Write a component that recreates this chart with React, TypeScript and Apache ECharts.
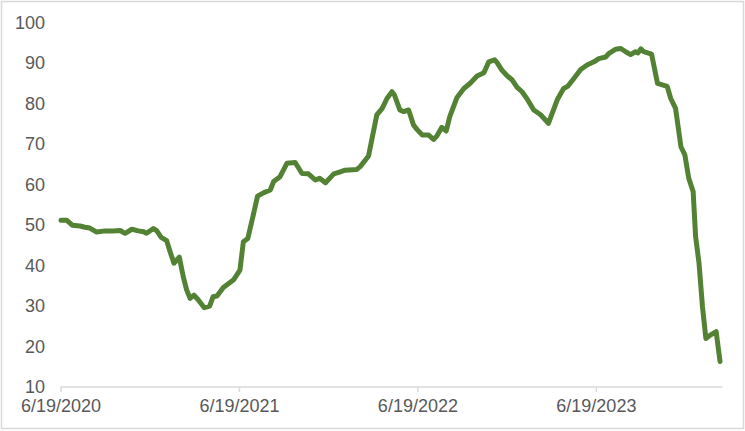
import React, { useEffect, useRef } from "react";
import * as echarts from "echarts";

const dates: string[] = [
  "2020-06-19", "2020-07-01", "2020-07-12", "2020-07-28", "2020-08-07", "2020-08-17", "2020-08-31",
  "2020-09-17", "2020-10-04", "2020-10-18", "2020-10-28", "2020-11-11", "2020-11-24", "2020-12-05",
  "2020-12-11", "2020-12-25", "2021-01-01", "2021-01-10", "2021-01-21", "2021-01-28", "2021-02-05",
  "2021-02-16", "2021-02-24", "2021-03-03", "2021-03-10", "2021-03-18", "2021-03-27", "2021-04-08",
  "2021-04-19", "2021-04-26", "2021-05-04", "2021-05-17", "2021-05-28", "2021-06-07", "2021-06-20",
  "2021-06-27", "2021-07-06", "2021-07-18", "2021-07-26", "2021-08-07", "2021-08-21", "2021-08-28",
  "2021-09-10", "2021-09-24", "2021-10-11", "2021-10-25", "2021-11-07", "2021-11-21", "2021-11-30",
  "2021-12-12", "2021-12-29", "2022-01-11", "2022-01-21", "2022-02-14", "2022-02-21", "2022-03-10",
  "2022-03-27", "2022-04-07", "2022-04-17", "2022-04-27", "2022-05-02", "2022-05-13", "2022-05-21",
  "2022-05-31", "2022-06-10", "2022-06-17", "2022-06-28", "2022-07-11", "2022-07-21", "2022-07-28",
  "2022-08-07", "2022-08-16", "2022-08-23", "2022-09-07", "2022-09-21", "2022-10-04", "2022-10-18",
  "2022-11-01", "2022-11-11", "2022-11-23", "2022-11-28", "2022-12-08", "2022-12-19", "2022-12-29",
  "2023-01-08", "2023-01-18", "2023-01-29", "2023-02-11", "2023-02-25", "2023-03-13", "2023-03-31",
  "2023-04-13", "2023-04-22", "2023-05-04", "2023-05-18", "2023-05-31", "2023-06-14", "2023-06-24",
  "2023-07-08", "2023-07-15", "2023-07-28", "2023-08-08", "2023-08-18", "2023-08-28", "2023-09-07",
  "2023-09-12", "2023-09-18", "2023-09-24", "2023-10-10", "2023-10-22", "2023-11-11", "2023-11-18",
  "2023-11-28", "2023-12-09", "2023-12-17", "2023-12-25", "2024-01-03", "2024-01-08", "2024-01-15",
  "2024-01-22", "2024-01-29", "2024-02-08", "2024-02-19", "2024-02-27",
];

const values: number[] = [
  51.2, 51.2, 50.0, 49.8, 49.5, 49.3, 48.3,
  48.6, 48.6, 48.7, 48.0, 49.0, 48.6, 48.4,
  48.0, 49.2, 48.6, 47.0, 46.2, 43.5, 40.6,
  42.1, 37.3, 34.0, 31.9, 32.7, 31.5, 29.6,
  30.0, 32.3, 32.5, 34.6, 35.6, 36.5, 38.9,
  45.9, 46.7, 52.9, 57.2, 58.0, 58.7, 60.8,
  62.0, 65.3, 65.5, 62.8, 62.7, 61.2, 61.6,
  60.5, 62.7, 63.2, 63.6, 63.8, 64.5, 67.1,
  77.3, 78.9, 81.4, 83.0, 82.2, 78.5, 78.1,
  78.5, 74.8, 73.7, 72.3, 72.3, 71.2, 72.1,
  74.2, 73.3, 76.8, 81.6, 83.8, 85.1, 86.9,
  87.7, 90.4, 90.9, 90.2, 88.3, 86.9, 85.9,
  84.1, 83.0, 81.1, 78.5, 77.3, 75.2, 81.0,
  83.8, 84.4, 86.3, 88.5, 89.6, 90.4, 91.2,
  91.6, 92.5, 93.5, 93.7, 92.9, 92.2, 92.9,
  92.6, 93.6, 92.9, 92.3, 85.1, 84.3, 81.4,
  78.9, 69.4, 67.4, 61.6, 58.3, 47.2, 40.6,
  29.9, 22.0, 22.9, 23.7, 16.3,
];

const startDate = "2020-06-19";
const tickDays: number[] = [0, 365, 730, 1095];
const axisEndDay = 1352;
const yTicks = { min: 10, max: 100, step: 10 };

const DAY = 86400000;
const startMs = Date.parse(startDate + "T00:00:00Z");
const toDay = (d: string) => Math.round((Date.parse(d + "T00:00:00Z") - startMs) / DAY);
const fmtDay = (n: number) => {
  const dt = new Date(startMs + n * DAY);
  return `${dt.getUTCMonth() + 1}/${dt.getUTCDate()}/${dt.getUTCFullYear()}`;
};

export default function App() {
  const ref = useRef<HTMLDivElement>(null);
  useEffect(() => {
    document.body.style.margin = "0";
    if (!ref.current) return;
    const chart = echarts.init(ref.current, null, { renderer: "svg" });
    const font = "'Liberation Sans', Arial, sans-serif";
    chart.setOption({
      animation: false,
      backgroundColor: "#ffffff",
      graphic: [
        {
          type: "rect",
          shape: { x: 1.5, y: 1.5, width: 742, height: 427 },
          style: { fill: "none", stroke: "#d9d9d9", lineWidth: 1.5 },
          silent: true,
        },
      ],
      grid: { left: 61, right: 23, top: 23, bottom: 44, containLabel: false },
      xAxis: {
        type: "value",
        min: 0,
        max: axisEndDay,
        interval: 365,
        splitLine: { show: false },
        axisLine: { show: true, lineStyle: { color: "#d9d9d9", width: 1.5 } },
        axisTick: { show: false },
        axisLabel: {
          show: true,
          showMaxLabel: false,
          margin: 10,
          color: "#595959",
          fontSize: 18,
          fontFamily: font,
          formatter: (v: number) => (tickDays.includes(Math.round(v)) ? fmtDay(Math.round(v)) : ""),
        },
      },
      yAxis: {
        type: "value",
        min: yTicks.min,
        max: yTicks.max,
        interval: yTicks.step,
        splitLine: { show: false },
        axisLine: { show: false },
        axisTick: { show: false },
        axisLabel: { margin: 16, color: "#595959", fontSize: 18, fontFamily: font },
      },
      series: [
        {
          type: "line",
          data: dates.map((d, i) => [toDay(d), values[i]]),
          showSymbol: false,
          symbol: "none",
          lineStyle: { color: "#548235", width: 5, join: "round", cap: "round" },
          z: 3,
        },
        {
          type: "custom",
          clip: false,
          silent: true,
          data: tickDays.map((d) => [d, yTicks.min]),
          renderItem: (_params: any, api: any) => {
            const p = api.coord([api.value(0), api.value(1)]);
            return {
              type: "line",
              shape: { x1: p[0], y1: p[1], x2: p[0], y2: p[1] + 5 },
              style: { stroke: "#d9d9d9", lineWidth: 1.5 },
            };
          },
          z: 2,
        },
      ],
    });
    return () => chart.dispose();
  }, []);
  return <div ref={ref} style={{ width: 745, height: 431 }} />;
}
